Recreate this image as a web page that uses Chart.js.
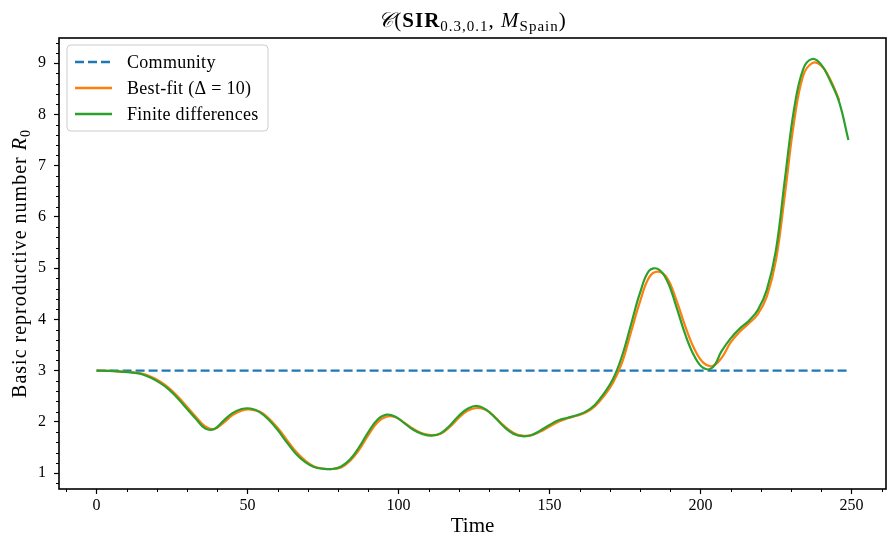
<!DOCTYPE html>
<html><head><meta charset="utf-8">
<script src="https://cdn.jsdelivr.net/npm/chart.js@4"></script>
<style>html,body{margin:0;padding:0;background:#fff}#wrap{width:888px;height:537px;position:relative}canvas{display:block}</style>
</head><body><div id="wrap"><canvas id="c" width="888" height="537"></canvas></div>
<script>
// ---- data ----
const time = [0,3,6,9,12,15,18,21,24,27,30,33,36,39,42,45,48,51,54,57,60,63,66,69,72,75,78,81,84,87,90,93,96,99,102,105,108,111,114,117,120,123,126,129,132,135,138,141,144,147,150,153,156,159,162,165,168,171,174,177,180,183,186,189,192,195,198,201,204,207,210,213,216,219,222,225,228,231,234,237,240,243,246,249];
const finiteDifferences = [3.00,2.995,2.99,2.975,2.96,2.93,2.86,2.76,2.63,2.45,2.25,2.05,1.87,1.86,2.02,2.17,2.25,2.26,2.19,2.04,1.84,1.60,1.38,1.22,1.12,1.085,1.08,1.13,1.27,1.51,1.80,2.04,2.14,2.10,1.97,1.84,1.76,1.73,1.78,1.93,2.12,2.26,2.31,2.24,2.08,1.90,1.77,1.72,1.74,1.83,1.94,2.03,2.08,2.13,2.20,2.33,2.55,2.83,3.28,3.90,4.52,4.95,4.98,4.75,4.25,3.70,3.28,3.05,3.06,3.38,3.63,3.82,3.97,4.18,4.58,5.35,6.75,8.10,8.88,9.08,8.97,8.65,8.23,7.50];
const bestFitTime = [0,3,6,9,12,15,18,21,24,27,30,33,36,39,42,45,48,51,54,57,60,63,66,69,72,75,78,81,84,87,90,93,96,99,102,105,108,111,114,117,120,123,126,129,132,135,138,141,144,147,150,153,156,159,162,165,168,171,174,177,180,183,186,189,192,195,198,201,204,207,210,213,216,219,222,225,228,231,234,237,240,243,246];
const bestFit = [3.00,2.995,2.99,2.98,2.965,2.94,2.88,2.79,2.66,2.49,2.29,2.09,1.91,1.86,1.98,2.13,2.22,2.24,2.20,2.07,1.88,1.65,1.42,1.25,1.13,1.09,1.08,1.11,1.24,1.46,1.74,1.99,2.10,2.09,1.98,1.86,1.77,1.74,1.77,1.90,2.08,2.22,2.27,2.23,2.09,1.92,1.79,1.73,1.74,1.81,1.91,2.00,2.07,2.12,2.18,2.30,2.50,2.76,3.15,3.75,4.35,4.82,4.93,4.80,4.38,3.86,3.42,3.15,3.09,3.25,3.55,3.76,3.92,4.10,4.45,5.15,6.45,7.85,8.75,9.00,8.95,8.68,8.27];
const communityTime = [0,249];
const community = [3,3];
const xTicks = [0,50,100,150,200,250];
const yTicks = [1,2,3,4,5,6,7,8,9];
const xMinorTicks = [-10,10,20,30,40,60,70,80,90,110,120,130,140,160,170,180,190,210,220,230,240,260];
const yMinorTicks = [0.8,1.2,1.4,1.6,1.8,2.2,2.4,2.6,2.8,3.2,3.4,3.6,3.8,4.2,4.4,4.6,4.8,5.2,5.4,5.6,5.8,6.2,6.4,6.6,6.8,7.2,7.4,7.6,7.8,8.2,8.4,8.6,8.8,9.2,9.4];
const legendLabels = ['Community','Best-fit (Δ = 10)','Finite differences'];

const FONT = "'Liberation Serif','DejaVu Serif',serif";
const C0='#1f77b4', C1='#ff7f0e', C2='#2ca02c';

function drawSegments(ctx, segs, cx, baseY, spacing){
  ctx.letterSpacing = (spacing||0)+'px';
  let w=0;
  segs.forEach(s=>{ctx.font=s.font; s.w=ctx.measureText(s.t).width; w+=s.w;});
  let x=cx-w/2;
  ctx.textAlign='left'; ctx.textBaseline='alphabetic';
  segs.forEach(s=>{ctx.font=s.font; ctx.fillText(s.t,x,baseY+(s.dy||0)); x+=s.w;});
  ctx.letterSpacing='0px';
}

const extras = {
  id:'extras',
  afterDraw(chart){
    const {ctx, chartArea:a, scales:{x,y}} = chart;
    ctx.save();
    ctx.strokeStyle='#000'; ctx.fillStyle='#000'; ctx.lineWidth=1;
    xMinorTicks.forEach(v=>{const px=Math.round(x.getPixelForValue(v))+0.5; ctx.beginPath(); ctx.moveTo(px,a.bottom); ctx.lineTo(px,a.bottom+3); ctx.stroke();});
    yMinorTicks.forEach(v=>{const py=Math.round(y.getPixelForValue(v))+0.5; ctx.beginPath(); ctx.moveTo(a.left,py); ctx.lineTo(a.left-3,py); ctx.stroke();});
    ctx.lineWidth=1.6;
    ctx.strokeRect(a.left,a.top,a.right-a.left,a.bottom-a.top);
    // title
    drawSegments(ctx,[
      {t:'𝒞',font:`italic 21px ${FONT}`},
      {t:'(',font:`21px ${FONT}`},
      {t:'SIR',font:`bold 21px ${FONT}`},
      {t:'0.3,0.1',font:`15px ${FONT}`,dy:4},
      {t:', ',font:`21px ${FONT}`},
      {t:'M',font:`italic 21px ${FONT}`},
      {t:'Spain',font:`15px ${FONT}`,dy:4},
      {t:')',font:`21px ${FONT}`}
    ],(a.left+a.right)/2,27,1);
    // y title
    ctx.save();
    ctx.translate(26,(a.top+a.bottom)/2);
    ctx.rotate(-Math.PI/2);
    drawSegments(ctx,[
      {t:'Basic reproductive number ',font:`20px ${FONT}`},
      {t:'R',font:`italic 20px ${FONT}`},
      {t:'0',font:`14px ${FONT}`,dy:4}
    ],0,0,1);
    ctx.restore();
    // legend
    const lx=67, ly=45, lw=201, lh=86, r=4;
    ctx.beginPath();
    ctx.moveTo(lx+r,ly); ctx.lineTo(lx+lw-r,ly); ctx.quadraticCurveTo(lx+lw,ly,lx+lw,ly+r);
    ctx.lineTo(lx+lw,ly+lh-r); ctx.quadraticCurveTo(lx+lw,ly+lh,lx+lw-r,ly+lh);
    ctx.lineTo(lx+r,ly+lh); ctx.quadraticCurveTo(lx,ly+lh,lx,ly+lh-r);
    ctx.lineTo(lx,ly+r); ctx.quadraticCurveTo(lx,ly,lx+r,ly); ctx.closePath();
    ctx.fillStyle='rgba(255,255,255,0.8)'; ctx.fill();
    ctx.strokeStyle='#cccccc'; ctx.lineWidth=1; ctx.stroke();
    const cols=[C0,C1,C2]; const dashes=[[9,4],[],[]];
    legendLabels.forEach((lab,i)=>{
      const yy=62+i*26;
      ctx.strokeStyle=cols[i]; ctx.lineWidth=2.5; ctx.setLineDash(dashes[i]);
      ctx.beginPath(); ctx.moveTo(75,yy); ctx.lineTo(112,yy); ctx.stroke();
      ctx.setLineDash([]);
      ctx.fillStyle='#000'; ctx.font=`18px ${FONT}`; ctx.letterSpacing='0.3px';
      ctx.textAlign='left'; ctx.textBaseline='middle';
      ctx.fillText(lab,127,yy+1);
      ctx.letterSpacing='0px';
    });
    ctx.restore();
  }
};

new Chart(document.getElementById('c'),{
  type:'line',
  data:{datasets:[
    {label:legendLabels[0],data:communityTime.map((t,i)=>({x:t,y:community[i]})),borderColor:C0,borderWidth:2.2,borderDash:[9,4],pointRadius:0,tension:0,order:3},
    {label:legendLabels[1],data:bestFitTime.map((t,i)=>({x:t,y:bestFit[i]})),borderColor:C1,borderWidth:2.2,pointRadius:0,tension:0.4,order:2},
    {label:legendLabels[2],data:time.map((t,i)=>({x:t,y:finiteDifferences[i]})),borderColor:C2,borderWidth:2.2,pointRadius:0,tension:0.4,order:1}
  ]},
  options:{
    responsive:false, animation:false, devicePixelRatio:1,
    layout:{padding:{top:38,right:2,left:0,bottom:0}},
    plugins:{legend:{display:false},title:{display:false},tooltip:{enabled:false}},
    scales:{
      x:{type:'linear',min:-12.45,max:261.45,
        afterBuildTicks:s=>{s.ticks=xTicks.map(v=>({value:v}));},
        afterFit:s=>{s.height=48;},
        border:{display:false},
        grid:{drawOnChartArea:false,drawTicks:true,tickLength:5,tickColor:'#000',tickWidth:1.2},
        ticks:{color:'#000',font:{family:FONT,size:16},padding:2,maxRotation:0},
        title:{display:true,text:'Time',color:'#000',font:{family:FONT,size:21,lineHeight:1},padding:{top:0,bottom:0}}
      },
      y:{type:'linear',min:0.69,max:9.49,
        afterBuildTicks:s=>{s.ticks=yTicks.map(v=>({value:v}));},
        afterFit:s=>{s.width=59;},
        border:{display:false},
        grid:{drawOnChartArea:false,drawTicks:true,tickLength:5,tickColor:'#000',tickWidth:1.2},
        ticks:{color:'#000',font:{family:FONT,size:16},padding:8}
      }
    }
  },
  plugins:[extras]
});
</script></body></html>
